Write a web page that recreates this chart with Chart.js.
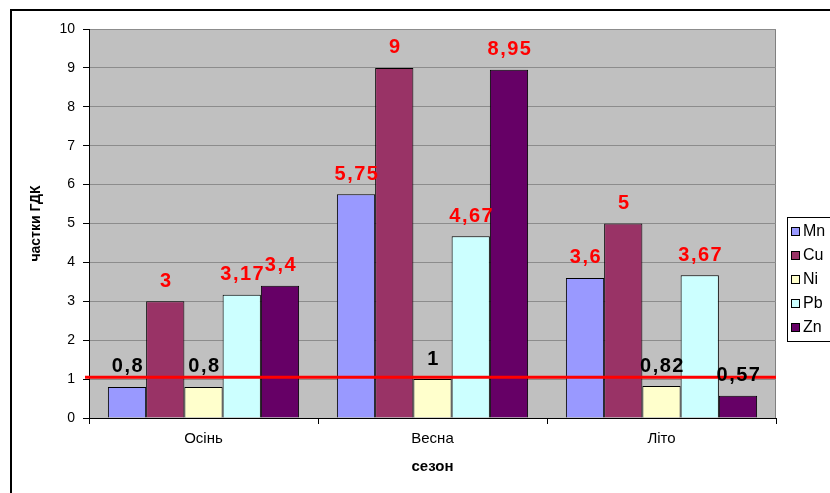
<!DOCTYPE html>
<html>
<head>
<meta charset="utf-8">
<script src="https://cdn.jsdelivr.net/npm/chart.js@4/dist/chart.umd.min.js"></script>
<style>
  html, body { margin: 0; padding: 0; background: #fff; overflow: hidden; }
  #wrap { position: relative; width: 830px; height: 493px; overflow: hidden; }
  #frame { position: absolute; left: 10px; top: 9px; width: 1000px; height: 1000px; border: 2px solid #000; box-sizing: border-box; pointer-events: none; }
  #grafik { position: absolute; left: 0; top: 0; }
</style>
</head>
<body>
<div id="wrap">
  <canvas id="grafik" width="900" height="493"></canvas>
  <div id="frame"></div>
</div>
<script>
const sezony = ['Осінь', 'Весна', 'Літо'];
const metaly = ['Mn', 'Cu', 'Ni', 'Pb', 'Zn'];
const mn = [0.8, 5.75, 3.6];
const cu = [3, 9, 5];
const ni = [0.8, 1, 0.82];
const pb = [3.17, 4.67, 3.67];
const zn = [3.4, 8.95, 0.57];
const rivenGdk = 1.05;
const yTicks = [0, 1, 2, 3, 4, 5, 6, 7, 8, 9, 10];

const kolory = ['#9999FF', '#993366', '#FFFFCC', '#CCFFFF', '#660066'];
const shrift = "'Liberation Sans', Arial, sans-serif";

// сіре поле діаграми під стовпчиками
const tloPlugin = {
  id: 'tlo',
  beforeDraw(chart) {
    const a = chart.chartArea;
    const ctx = chart.ctx;
    ctx.save();
    ctx.fillStyle = '#C0C0C0';
    ctx.fillRect(a.left, a.top, a.right - a.left, a.bottom - a.top);
    ctx.strokeStyle = '#808080';
    ctx.lineWidth = 1;
    ctx.strokeRect(a.left + 0.5, a.top + 0.5, a.right - a.left - 1, a.bottom - a.top);
    ctx.restore();
  }
};

// червона лінія рівня ГДК
const liniyaPlugin = {
  id: 'liniya',
  afterDatasetsDraw(chart) {
    const y = chart.scales.y.getPixelForValue(rivenGdk);
    const a = chart.chartArea;
    const ctx = chart.ctx;
    ctx.save();
    ctx.strokeStyle = '#FF0000';
    ctx.lineWidth = 3;
    ctx.beginPath();
    ctx.moveTo(a.left - 4, y);
    ctx.lineTo(a.right, y);
    ctx.stroke();
    ctx.restore();
  }
};

// підписи значень над стовпчиками
const pidpysyPlugin = {
  id: 'pidpysy',
  afterDraw(chart) {
    const ctx = chart.ctx;
    ctx.save();
    ctx.font = 'bold 20px ' + shrift;
    ctx.letterSpacing = '1.5px';
    ctx.textAlign = 'center';
    ctx.textBaseline = 'middle';
    chart.data.datasets.forEach((ds, i) => {
      chart.getDatasetMeta(i).data.forEach((bar, j) => {
        const v = ds.data[j];
        ctx.fillStyle = v > 1 ? '#FF0000' : '#000000';
        ctx.fillText(String(v).replace('.', ','), bar.x + 1, bar.y - 20);
      });
    });
    ctx.restore();
  }
};

// легенда в рамці праворуч
const legendaPlugin = {
  id: 'legenda',
  afterDraw(chart) {
    const ctx = chart.ctx;
    const x0 = 787, y0 = 217, krok = 24;
    ctx.save();
    ctx.fillStyle = '#fff';
    ctx.fillRect(x0, y0, 120, 124);
    ctx.strokeStyle = '#000';
    ctx.lineWidth = 1;
    ctx.strokeRect(x0 + 0.5, y0 + 0.5, 120, 124);
    ctx.font = '16px ' + shrift;
    ctx.textBaseline = 'middle';
    chart.data.datasets.forEach((ds, i) => {
      const y = y0 + 14 + i * krok;
      ctx.fillStyle = ds.backgroundColor;
      ctx.fillRect(x0 + 4, y - 4, 8, 8);
      ctx.strokeStyle = '#000';
      ctx.strokeRect(x0 + 4.5, y - 3.5, 8, 8);
      ctx.fillStyle = '#000';
      ctx.fillText(ds.label, x0 + 16, y + 1);
    });
    ctx.restore();
  }
};

const ryady = [mn, cu, ni, pb, zn];

new Chart(document.getElementById('grafik'), {
  type: 'bar',
  data: {
    labels: sezony,
    datasets: metaly.map((m, i) => ({
      label: m,
      data: ryady[i],
      backgroundColor: kolory[i],
      borderColor: '#000',
      borderWidth: 1,
      categoryPercentage: 0.835,
      barPercentage: 1
    }))
  },
  options: {
    responsive: false,
    animation: false,
    devicePixelRatio: 1,
    layout: { padding: { left: 0, top: 29, right: 124, bottom: 0 } },
    plugins: {
      legend: { display: false },
      tooltip: { enabled: false }
    },
    scales: {
      x: {
        afterFit(scale) { scale.height = 75; },
        grid: { offset: true, drawOnChartArea: false, tickLength: 6, tickColor: '#000' },
        border: { color: '#000' },
        ticks: { color: '#000', font: { family: shrift, size: 15 }, padding: 6 },
        title: { display: true, text: 'сезон', color: '#000', font: { family: shrift, size: 15, weight: 'bold' }, padding: { top: 0, bottom: 17 } }
      },
      y: {
        min: 0,
        max: 10,
        afterFit(scale) { scale.width = 89; },
        afterBuildTicks(scale) { scale.ticks = yTicks.map(v => ({ value: v })); },
        grid: { color: '#8c8c8c', tickLength: 6, tickColor: '#000' },
        border: { color: '#000' },
        ticks: { color: '#000', font: { family: shrift, size: 14 }, padding: 8 },
        title: { display: true, text: 'частки ГДК', color: '#000', font: { family: shrift, size: 14, weight: 'bold' }, padding: { top: 28, bottom: 0 } }
      }
    }
  },
  plugins: [tloPlugin, liniyaPlugin, pidpysyPlugin, legendaPlugin]
});
</script>
</body>
</html>
